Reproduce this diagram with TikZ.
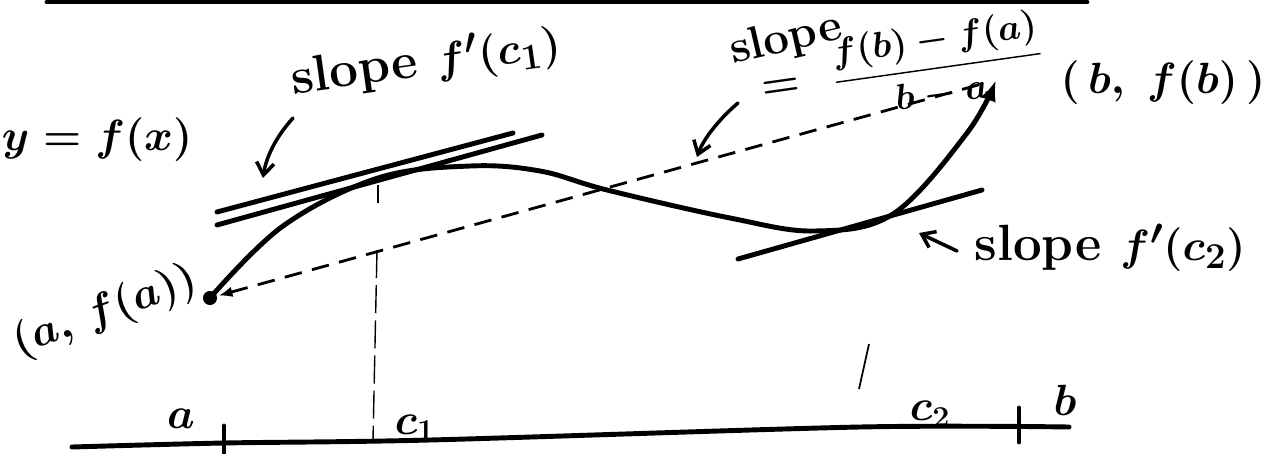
\documentclass[tikz,border=0pt]{standalone}
\usepackage{amsmath}
\usetikzlibrary{arrows.meta}

\begin{document}
\begin{tikzpicture}[x=0.02cm, y=-0.02cm,
  ink/.style={line width=2.8pt, line cap=round, line join=round},
  chordline/.style={line width=1.6pt, dash pattern=on 10pt off 6pt},
  guide/.style={line width=0.8pt, dash pattern=on 16pt off 4pt},
  note/.style={line width=2pt, line cap=round, -{Straight Barb[length=7pt,width=10pt]}},
  lbl/.style={inner sep=0pt, font=\fontsize{26}{28}\selectfont\bfseries\boldmath},
  biglbl/.style={lbl, font=\fontsize{29}{31}\selectfont\bfseries\boldmath}]
\useasboundingbox (0,0) rectangle (1287,453);
\foreach \n/\x/\y in {fa/210/298, k1/283/226, t1/378/178, pk/470/166, k2/540/171, cx/607/190,
  k3/730/218, tr/815/231, t2/893/214, k4/967/133, fb/996/80} {
  \coordinate (\n) at (\x,\y);
}
\draw[ink] (47,2) -- (1087,2);
\draw[ink] plot[smooth] coordinates {(72,447) (224,443) (430,440) (860,427) (1069,427)};
\foreach \x/\ya/\yb in {224/426/453, 1019/408/442} {
  \draw[ink] (\x,\ya) -- (\x,\yb);
}
\draw[ink] (217,212) -- (513,133);
\draw[ink] (217,225) -- (542,135);
\draw[ink] (738,259) -- (982,190);
\draw[ink, -{Latex[length=12pt,width=9pt]}] plot[smooth, tension=0.6]
  coordinates {(fa) (k1) (t1) (pk) (k2) (cx) (k3) (tr) (t2) (k4) (fb)};
\fill (fa) circle (4pt);
\draw[chordline, {Latex[length=8pt,width=6pt]}-, shorten <=5pt, shorten >=8pt] (fa) -- (fb);
\draw[line width=1.2pt] (378,185) -- (378,203);
\draw[guide] (377,250) -- (373,440);
\draw[line width=1pt] (869,344) -- (859,389);
\node[lbl] (lyf) at (97,140) {$y=f(x)$};
\node[lbl, rotate=20] (lpa) at (105,312) {$(a,\,f(a))$};
\node[lbl] (lpb) at (1163,83) {$(\,b,\;f(b)\,)$};
\node[biglbl, rotate=8] (ls1) at (426,63) {slope $f'(c_1)$};
\node[lbl, rotate=13] (ls2) at (786,40) {slope};
\node[lbl, rotate=8] (leq) at (781,88) {$=$};
\node[lbl, rotate=8, font=\fontsize{21}{23}\selectfont\boldmath] (lsv) at (938,66) {$\dfrac{f(b)-f(a)}{b-a}$};
\node[biglbl] (ls3) at (1110,248) {slope $f'(c_2)$};
\node[lbl] (la) at (181,419) {$a$};
\node[lbl] (lc1) at (415,428) {$c_1$};
\node[lbl] (lc2) at (930,414) {$c_2$};
\node[lbl] (lb) at (1065,400) {$b$};
\coordinate (n1a) at (293,118);
\coordinate (n1b) at (263,178);
\coordinate (n2a) at (738,103);
\coordinate (n2b) at (697,157);
\coordinate (n3a) at (957,251);
\coordinate (n3b) at (919,233);
\draw[note] (n1a) .. controls (275,138) and (266,158) .. (n1b);
\draw[note] (n2a) .. controls (718,120) and (703,140) .. (n2b);
\draw[note] (n3a) -- (n3b);
\end{tikzpicture}
\end{document}
